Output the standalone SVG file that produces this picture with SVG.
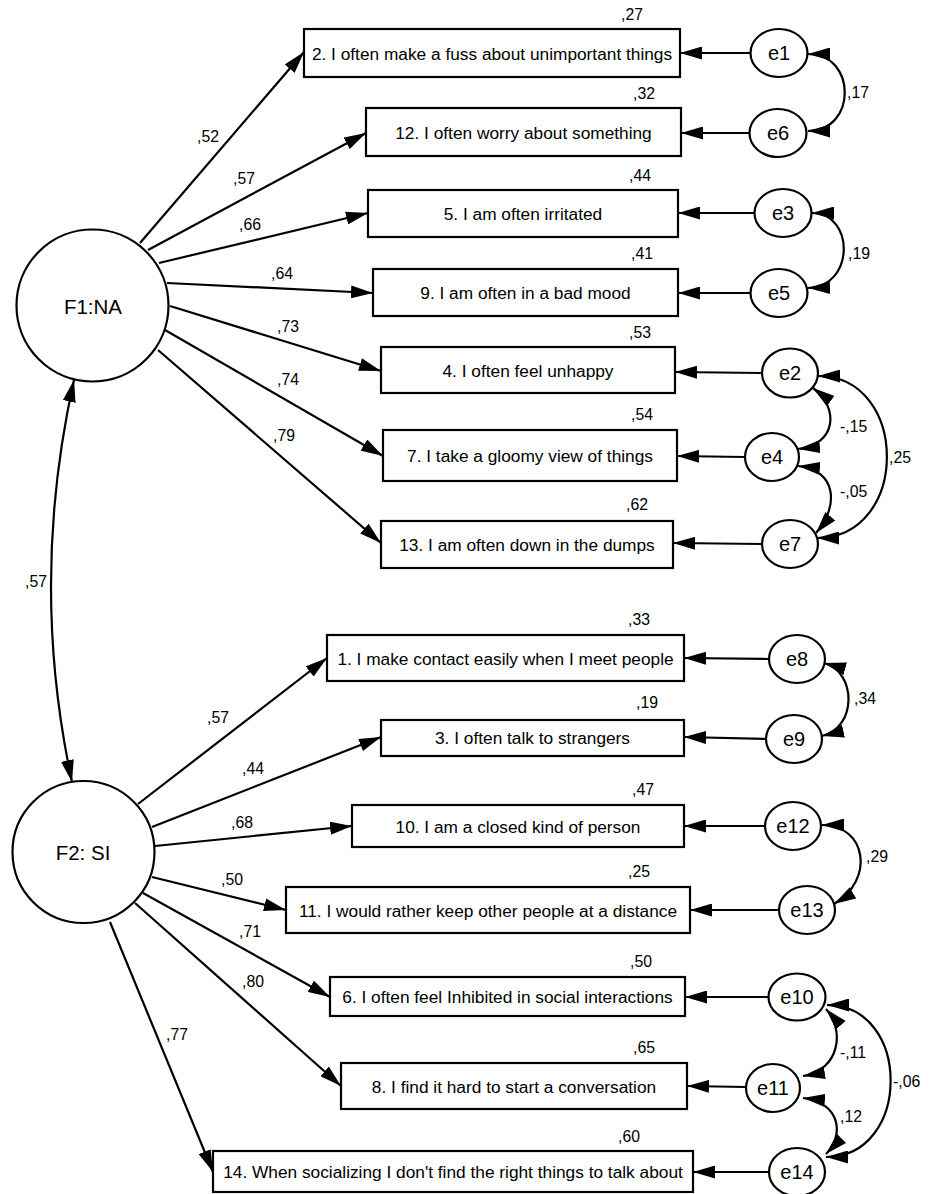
<svg xmlns="http://www.w3.org/2000/svg" width="933" height="1194" viewBox="0 0 933 1194">
<style>
.box{fill:#fff;stroke:#000;stroke-width:2.2}
.lat{fill:#fff;stroke:#000;stroke-width:2.2}
.err{fill:#fff;stroke:#000;stroke-width:2.2}
.t{font-family:"Liberation Sans",Arial,sans-serif;font-size:17.3px;fill:#000;text-anchor:middle}
.lt{font-family:"Liberation Sans",Arial,sans-serif;font-size:20.5px;fill:#000;text-anchor:middle}
.et{font-family:"Liberation Sans",Arial,sans-serif;font-size:20px;fill:#000;text-anchor:middle}
.n{font-family:"Liberation Sans",Arial,sans-serif;font-size:15.8px;fill:#000}
.c{fill:none;stroke:#000;stroke-width:2.2}
.a{marker-end:url(#ah)}
.d{marker-start:url(#ah);marker-end:url(#ah)}
</style>
<defs>
<marker id="ah" viewBox="0 0 22 13" refX="22" refY="6.5" markerWidth="22" markerHeight="13" markerUnits="userSpaceOnUse" orient="auto-start-reverse">
<path d="M0,0 L22,6.5 L0,13 z" fill="#000"/>
</marker>
</defs>
<rect x="0" y="0" width="933" height="1194" fill="#fff"/>

<g id="connectors">
<!-- F1 loadings -->
<line class="c a" x1="140" y1="243" x2="304" y2="52"/>
<line class="c a" x1="148" y1="250" x2="366" y2="133"/>
<line class="c a" x1="159" y1="263" x2="368" y2="213"/>
<line class="c a" x1="167" y1="283" x2="373" y2="293"/>
<line class="c a" x1="170" y1="306" x2="381" y2="371"/>
<line class="c a" x1="165" y1="330" x2="383" y2="456"/>
<line class="c a" x1="158" y1="350" x2="381" y2="543"/>
<!-- F2 loadings -->
<line class="c a" x1="138" y1="804" x2="327" y2="658"/>
<line class="c a" x1="152" y1="827" x2="381" y2="737"/>
<line class="c a" x1="155" y1="846" x2="352" y2="826"/>
<line class="c a" x1="152" y1="877" x2="286" y2="910"/>
<line class="c a" x1="143" y1="893" x2="330" y2="997"/>
<line class="c a" x1="135" y1="903" x2="341" y2="1086"/>
<line class="c a" x1="110" y1="922" x2="213" y2="1172"/>
<!-- error arrows -->
<line class="c a" x1="750" y1="53" x2="680" y2="53"/>
<line class="c a" x1="750" y1="133" x2="681" y2="133"/>
<line class="c a" x1="755" y1="213" x2="678" y2="213"/>
<line class="c a" x1="751" y1="293" x2="678" y2="293"/>
<line class="c a" x1="762" y1="373" x2="675" y2="372"/>
<line class="c a" x1="745" y1="457" x2="677" y2="456"/>
<line class="c a" x1="762" y1="544" x2="673" y2="543"/>
<line class="c a" x1="769" y1="659" x2="684" y2="658"/>
<line class="c a" x1="766" y1="739" x2="684" y2="737"/>
<line class="c a" x1="765" y1="826" x2="684" y2="826"/>
<line class="c a" x1="779" y1="910" x2="690" y2="910"/>
<line class="c a" x1="768" y1="997" x2="685" y2="997"/>
<line class="c a" x1="746" y1="1087" x2="687" y2="1086"/>
<line class="c a" x1="769" y1="1172" x2="693" y2="1172"/>
<!-- factor correlation -->
<path class="c d" d="M74 380 Q29 582 72 782"/>
<!-- error covariances -->
<path class="c d" d="M808 54 C857 54 857 131 808 131"/>
<path class="c d" d="M812 213 C855 213 855 287 808 288"/>
<path class="c d" d="M813 388 C840 408 836 445 798 449"/>
<path class="c d" d="M798 466 C836 470 840 505 816 533"/>
<path class="c d" d="M818 376 C910 376 910 538 817 538"/>
<path class="c d" d="M824 663 C857 672 857 728 822 736"/>
<path class="c d" d="M822 825 C867 825 875 880 834 904"/>
<path class="c d" d="M826 1009 C845 1030 840 1070 803 1076"/>
<path class="c d" d="M803 1098 C840 1102 845 1135 826 1154"/>
<path class="c d" d="M827 1005 C912 1005 912 1157 826 1157"/>
<!-- loading labels -->
<text class="n" x="197" y="142">,52</text>
<text class="n" x="233" y="184">,57</text>
<text class="n" x="239" y="230">,66</text>
<text class="n" x="271" y="279">,64</text>
<text class="n" x="277" y="332">,73</text>
<text class="n" x="277" y="385">,74</text>
<text class="n" x="273" y="441">,79</text>
<text class="n" x="25" y="587">,57</text>
<text class="n" x="207" y="723">,57</text>
<text class="n" x="242" y="774">,44</text>
<text class="n" x="231" y="828">,68</text>
<text class="n" x="221" y="885">,50</text>
<text class="n" x="239" y="937">,71</text>
<text class="n" x="242" y="987">,80</text>
<text class="n" x="166" y="1040">,77</text>
<!-- covariance labels -->
<text class="n" x="847" y="98">,17</text>
<text class="n" x="848" y="259">,19</text>
<text class="n" x="840" y="432">-,15</text>
<text class="n" x="840" y="497">-,05</text>
<text class="n" x="889" y="463">,25</text>
<text class="n" x="854" y="704">,34</text>
<text class="n" x="866" y="862">,29</text>
<text class="n" x="840" y="1058">-,11</text>
<text class="n" x="840" y="1122">,12</text>
<text class="n" x="893" y="1087">-,06</text>
</g>

<g id="F1"><circle class="lat" cx="92.5" cy="305.5" r="76"/><text class="lt" x="93" y="314">F1:NA</text></g>
<g id="F2"><circle class="lat" cx="83.5" cy="852" r="71"/><text class="lt" x="83" y="860">F2: SI</text></g>

<g id="item2"><rect class="box" x="304" y="29" width="376" height="48"/><text class="t" x="492" y="59.5">2. I often make a fuss about unimportant things</text><text class="n" x="621" y="20">,27</text></g>
<g id="item12"><rect class="box" x="366" y="108" width="315" height="48"/><text class="t" x="523.5" y="138.5">12. I often worry about something</text><text class="n" x="633" y="99">,32</text></g>
<g id="item5"><rect class="box" x="368" y="190" width="310" height="47"/><text class="t" x="523" y="220">5. I am often irritated</text><text class="n" x="629" y="181">,44</text></g>
<g id="item9"><rect class="box" x="373" y="269" width="305" height="47"/><text class="t" x="525.5" y="299">9. I am often in a bad mood</text><text class="n" x="631" y="259">,41</text></g>
<g id="item4"><rect class="box" x="381" y="347" width="294" height="46"/><text class="t" x="528" y="376.5">4. I often feel unhappy</text><text class="n" x="629" y="338">,53</text></g>
<g id="item7"><rect class="box" x="383" y="430" width="294" height="51"/><text class="t" x="530" y="462">7. I take a gloomy view of things</text><text class="n" x="631" y="420">,54</text></g>
<g id="item13"><rect class="box" x="381" y="521" width="292" height="47"/><text class="t" x="527" y="551">13. I am often down in the dumps</text><text class="n" x="626" y="510">,62</text></g>

<g id="item1"><rect class="box" x="327" y="635" width="357" height="46"/><text class="t" x="505.5" y="664.5">1. I make contact easily when I meet people</text><text class="n" x="628" y="625">,33</text></g>
<g id="item3"><rect class="box" x="381" y="720" width="303" height="36"/><text class="t" x="532.5" y="744">3. I often talk to strangers</text><text class="n" x="636" y="708">,19</text></g>
<g id="item10"><rect class="box" x="352" y="805" width="332" height="42"/><text class="t" x="518" y="832.5">10. I am a closed kind of person</text><text class="n" x="632" y="795">,47</text></g>
<g id="item11"><rect class="box" x="286" y="887" width="404" height="46"/><text class="t" x="488" y="916.5">11. I would rather keep other people at a distance</text><text class="n" x="628" y="877">,25</text></g>
<g id="item6"><rect class="box" x="330" y="977" width="355" height="39"/><text class="t" x="507.5" y="1003">6. I often feel Inhibited in social interactions</text><text class="n" x="630" y="967">,50</text></g>
<g id="item8"><rect class="box" x="341" y="1063" width="346" height="46"/><text class="t" x="514" y="1092.5">8. I find it hard to start a conversation</text><text class="n" x="633" y="1053">,65</text></g>
<g id="item14"><rect class="box" x="213" y="1151" width="480" height="41"/><text class="t" x="453" y="1178">14. When socializing I don't find the right things to talk about</text><text class="n" x="618" y="1142">,60</text></g>

<g id="e1"><ellipse class="err" cx="779" cy="53" rx="28.5" ry="24"/><text class="et" x="779" y="60">e1</text></g>
<g id="e6"><ellipse class="err" cx="778" cy="133" rx="28.5" ry="24"/><text class="et" x="778" y="140">e6</text></g>
<g id="e3"><ellipse class="err" cx="783" cy="213" rx="28.5" ry="24"/><text class="et" x="783" y="220">e3</text></g>
<g id="e5"><ellipse class="err" cx="779" cy="293" rx="28.5" ry="24"/><text class="et" x="779" y="300">e5</text></g>
<g id="e2"><ellipse class="err" cx="790" cy="373" rx="28" ry="24.5"/><text class="et" x="790" y="380">e2</text></g>
<g id="e4"><ellipse class="err" cx="772" cy="457" rx="27" ry="24"/><text class="et" x="772" y="464">e4</text></g>
<g id="e7"><ellipse class="err" cx="790" cy="544" rx="28" ry="24"/><text class="et" x="790" y="551">e7</text></g>
<g id="e8"><ellipse class="err" cx="797" cy="659" rx="28" ry="24"/><text class="et" x="797" y="666">e8</text></g>
<g id="e9"><ellipse class="err" cx="794" cy="739" rx="28" ry="24"/><text class="et" x="794" y="746">e9</text></g>
<g id="e12"><ellipse class="err" cx="793" cy="826" rx="28" ry="24"/><text class="et" x="793" y="833">e12</text></g>
<g id="e13"><ellipse class="err" cx="807" cy="910" rx="28" ry="24"/><text class="et" x="807" y="917">e13</text></g>
<g id="e10"><ellipse class="err" cx="797" cy="997" rx="28.5" ry="23.5"/><text class="et" x="797" y="1004">e10</text></g>
<g id="e11"><ellipse class="err" cx="773" cy="1088" rx="27" ry="24"/><text class="et" x="773" y="1095">e11</text></g>
<g id="e14"><ellipse class="err" cx="797" cy="1172" rx="28" ry="24"/><text class="et" x="797" y="1179">e14</text></g>
</svg>
